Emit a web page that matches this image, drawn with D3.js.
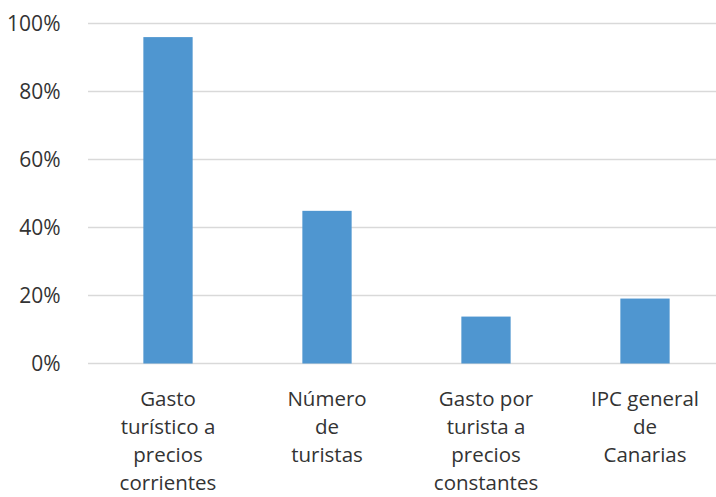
<!DOCTYPE html>
<html lang="es">
<head>
<meta charset="UTF-8">
<title>Gasto turístico</title>
<script src="https://d3js.org/d3.v7.min.js"></script>
<style>
  html, body { margin: 0; padding: 0; background: #fff; }
  svg text { font-family: "Open Sans", Lato, sans-serif; fill: #333; }
</style>
</head>
<body>
<div id="chart"></div>
<script>
// data
const categories = [
  ["Gasto", "turístico a", "precios", "corrientes"],
  ["Número", "de", "turistas"],
  ["Gasto por", "turista a", "precios", "constantes"],
  ["IPC general", "de", "Canarias"]
];
const values = [96, 44.9, 13.8, 19.1];
const yTicks = [0, 20, 40, 60, 80, 100];

const width = 716, height = 497;
const margin = {top: 23.5, right: -8.5, bottom: 133.5, left: 88.5};

const svg = d3.select("#chart").append("svg")
    .attr("width", width)
    .attr("height", height);

const x = d3.scaleBand()
    .domain(d3.range(categories.length))
    .range([margin.left, width - margin.right])
    .paddingInner(0.69)
    .paddingOuter(0.345);

const y = d3.scaleLinear()
    .domain([0, 100])
    .range([height - margin.bottom, margin.top]);

// gridlines
svg.append("g")
  .selectAll("line")
  .data(yTicks)
  .join("line")
    .attr("x1", margin.left - 0.5)
    .attr("x2", width)
    .attr("y1", d => y(d))
    .attr("y2", d => y(d))
    .attr("stroke", "#d9d9d9")
    .attr("stroke-width", 1.5);

// y axis labels
const yAxis = svg.append("g")
    .attr("transform", `translate(${margin.left},0)`)
    .call(d3.axisLeft(y).tickValues(yTicks).tickFormat(d => d + "%").tickSize(0).tickPadding(28));
yAxis.select(".domain").remove();
yAxis.selectAll("text")
    .attr("font-size", 21)
    .attr("font-family", null)
    .attr("fill", null);

// bars
svg.append("g")
  .selectAll("rect")
  .data(values)
  .join("rect")
    .attr("x", (d, i) => x(i))
    .attr("y", d => y(d))
    .attr("width", x.bandwidth())
    .attr("height", d => y(0) - y(d))
    .attr("fill", "#4f96d0");

// category labels
const lab = svg.append("g")
  .selectAll("text")
  .data(categories)
  .join("text")
    .attr("text-anchor", "middle")
    .attr("font-size", 20.5)
    .attr("x", (d, i) => x(i) + x.bandwidth() / 2)
    .attr("y", y(0) + 42.5);
lab.selectAll("tspan")
  .data(d => d)
  .join("tspan")
    .attr("x", function () { return d3.select(this.parentNode).attr("x"); })
    .attr("dy", (d, i) => i === 0 ? 0 : 28)
    .text(d => d);
</script>
</body>
</html>
